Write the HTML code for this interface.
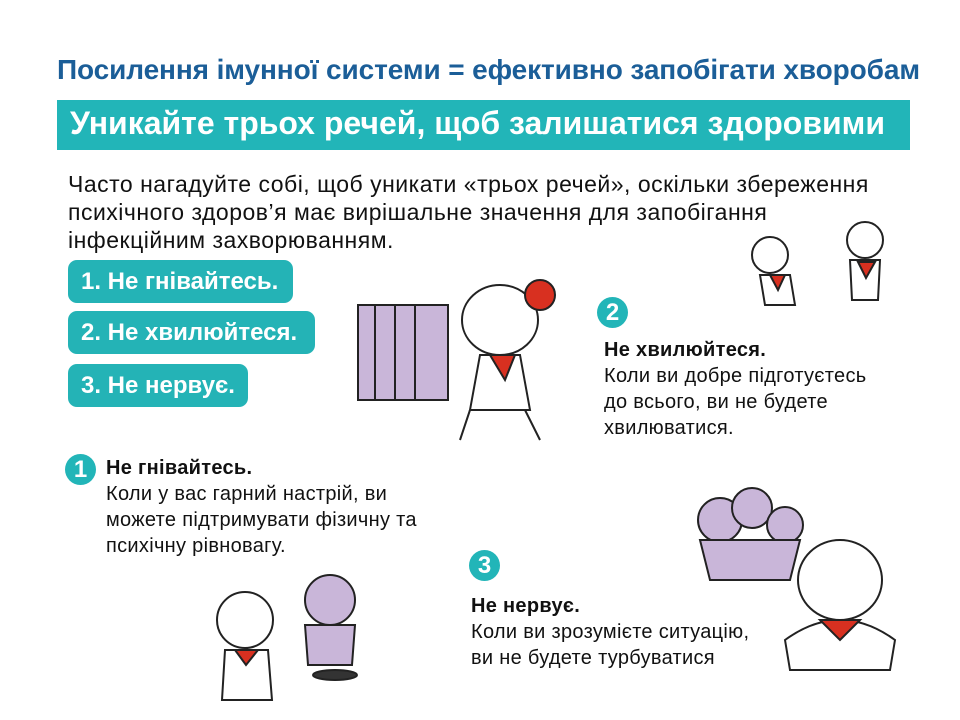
<!DOCTYPE html>
<html><head><meta charset="utf-8"><style>
body{margin:0;width:960px;height:720px;background:#fff;position:relative;overflow:hidden;font-family:"Liberation Sans",sans-serif}
.a{position:absolute;white-space:nowrap}
.t{left:57px;top:54px;color:#1b5e98;font-weight:bold;font-size:28px;letter-spacing:-0.1px}
.band{left:57px;top:100px;width:853px;height:50px;background:#22b5b8}
.bt{left:70px;top:105px;color:#fff;font-weight:bold;font-size:32px}
.p{left:68px;top:170px;font-size:23px;line-height:28px;color:#111;letter-spacing:.5px}
.btn{background:#24b3b6;color:#fff;font-weight:bold;font-size:24px;border-radius:9px;left:68px;height:43px;line-height:43px;padding-left:13px;box-sizing:border-box}
.c{width:31px;height:31px;border-radius:50%;background:#22b5b8;color:#fff;font-weight:bold;font-size:24px;text-align:center;line-height:31px}
.tx{font-size:20px;line-height:26px;color:#111;letter-spacing:.3px}
.tx b{font-weight:bold}
</style></head><body>
<div class="a t">Посилення імунної системи = ефективно запобігати хворобам</div>
<div class="a band"></div>
<div class="a bt">Уникайте трьох речей, щоб залишатися здоровими</div>
<div class="a p">Часто нагадуйте собі, щоб уникати «трьох речей», оскільки збереження<br>психічного здоров’я має вирішальне значення для запобігання<br>інфекційним захворюванням.</div>
<div class="a btn" style="top:260px;width:225px">1. Не гнівайтесь.</div>
<div class="a btn" style="top:311px;width:247px">2. Не хвилюйтеся.</div>
<div class="a btn" style="top:364px;width:180px">3. Не нервує.</div>
<div class="a c" style="left:65px;top:454px">1</div>
<div class="a tx" style="left:106px;top:455px"><b>Не гнівайтесь.</b><br>Коли у вас гарний настрій, ви<br>можете підтримувати фізичну та<br>психічну рівновагу.</div>
<div class="a c" style="left:597px;top:297px">2</div>
<div class="a tx" style="left:604px;top:337px"><b>Не хвилюйтеся.</b><br>Коли ви добре підготуєтесь<br>до всього, ви не будете<br>хвилюватися.</div>
<div class="a c" style="left:469px;top:550px">3</div>
<div class="a tx" style="left:471px;top:593px"><b>Не нервує.</b><br>Коли ви зрозумієте ситуацію,<br>ви не будете турбуватися</div>
<svg class="a" style="left:0;top:0" width="960" height="720">
<g stroke="#222" stroke-width="2" fill="none">
<rect x="358" y="305" width="90" height="95" fill="#c9b6d9"/>
<line x1="375" y1="305" x2="375" y2="400"/><line x1="395" y1="305" x2="395" y2="400"/><line x1="415" y1="305" x2="415" y2="400"/>
<ellipse cx="500" cy="320" rx="38" ry="35" fill="#fff"/>
<circle cx="540" cy="295" r="15" fill="#d83020"/>
<path d="M480 355 L520 355 L530 410 L470 410 Z" fill="#fff"/>
<path d="M490 355 L515 355 L505 380 Z" fill="#d83020"/>
<path d="M470 410 L460 440 M525 410 L540 440"/>
<circle cx="770" cy="255" r="18" fill="#fff"/><circle cx="865" cy="240" r="18" fill="#fff"/>
<path d="M760 275 L790 275 L795 305 L765 305Z" fill="#fff"/><path d="M850 260 L880 260 L878 300 L852 300Z" fill="#fff"/>
<path d="M770 275 L785 275 L778 290Z M858 262 L875 262 L866 278Z" fill="#d83020"/>
<circle cx="720" cy="520" r="22" fill="#c9b6d9"/><circle cx="752" cy="508" r="20" fill="#c9b6d9"/><circle cx="785" cy="525" r="18" fill="#c9b6d9"/>
<path d="M700 540 L800 540 L790 580 L710 580Z" fill="#c9b6d9"/>
<ellipse cx="840" cy="580" rx="42" ry="40" fill="#fff"/>
<path d="M785 640 Q840 600 895 640 L890 670 L790 670Z" fill="#fff"/>
<path d="M820 620 L860 620 L840 640Z" fill="#d83020"/>
<circle cx="245" cy="620" r="28" fill="#fff"/><path d="M225 650 L268 650 L272 700 L222 700Z" fill="#fff"/>
<path d="M235 650 L258 650 L246 665Z" fill="#d83020"/>
<circle cx="330" cy="600" r="25" fill="#c9b6d9"/><path d="M305 625 L355 625 L352 665 L308 665Z" fill="#c9b6d9"/>
<ellipse cx="335" cy="675" rx="22" ry="5" fill="#333"/>
</g></svg>
</body></html>
